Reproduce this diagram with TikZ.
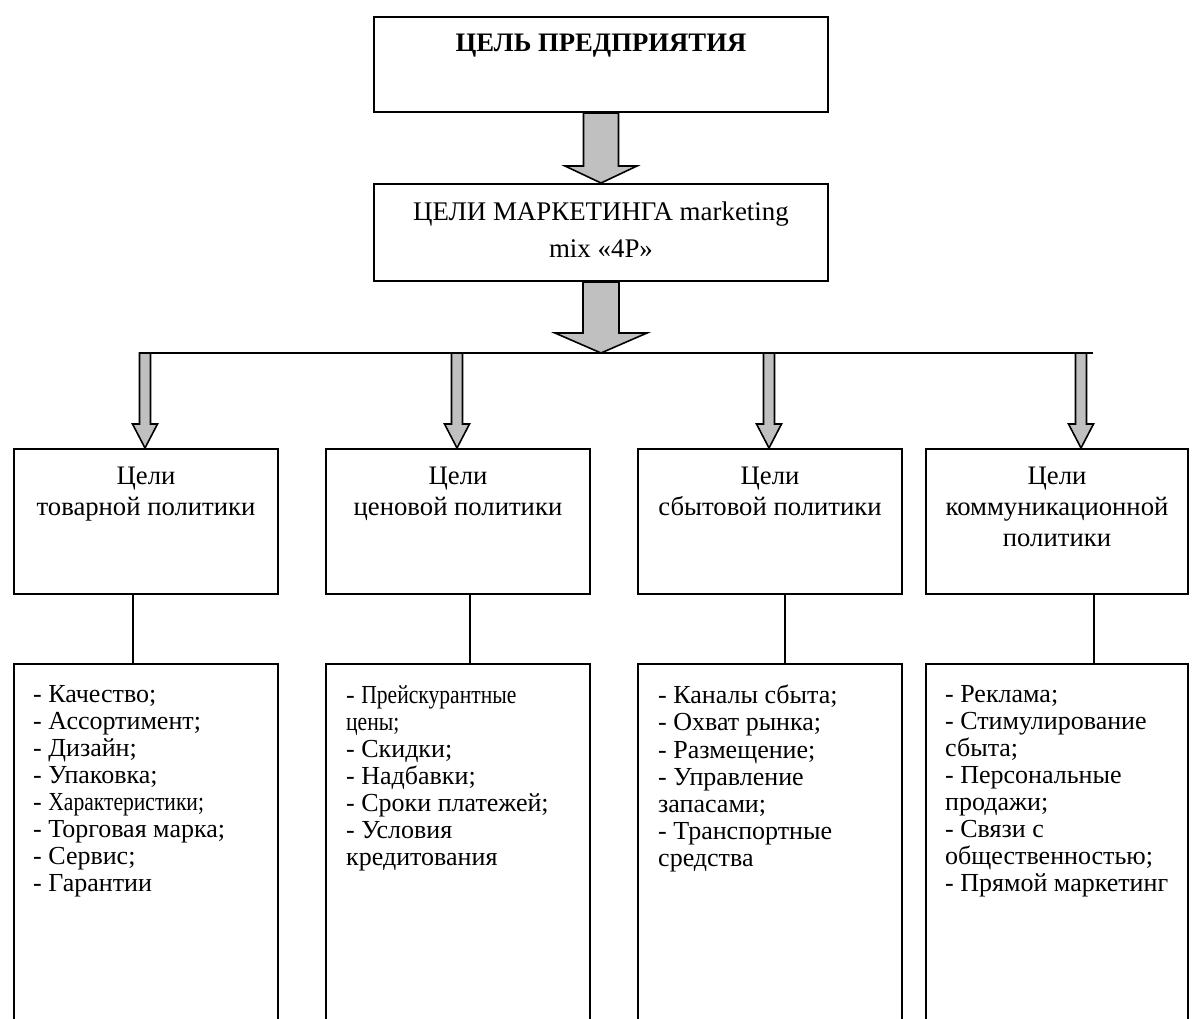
\documentclass[tikz,border=0pt]{standalone}
\usepackage{fontspec}
\usepackage{graphicx}
\setmainfont{Liberation Serif}
\usetikzlibrary{calc}

\definecolor{arrowgray}{RGB}{192,192,192}
\tikzset{
    box/.style={draw=black, line width=2pt, anchor=north west, inner sep=0pt},
    headtext/.style={anchor=north, align=center, inner sep=0pt, font=\fontsize{26.7}{31}\selectfont},
    listtext/.style={anchor=north west, align=left, inner sep=0pt, font=\fontsize{26}{27.1}\selectfont},
    blockarrow/.style={fill=arrowgray, draw=black, line width=1.6pt, line join=miter},
    link/.style={draw=black, line width=2pt},
}
% #1 start, #2 tip, #3 half shaft, #4 half head, #5 head length
\newcommand{\blockarrow}[5]{\filldraw[blockarrow] ($(#1)+(-#3,0)$) -- ($(#2)+(-#3,-#5)$) -- ($(#2)+(-#4,-#5)$) -- (#2) -- ($(#2)+(#4,-#5)$) -- ($(#2)+(#3,-#5)$) -- ($(#1)+(#3,0)$) -- cycle;}
% condensed words as in the source
\newcommand{\narrow}[1]{\scalebox{0.83}[1]{#1}}

\begin{document}
\begin{tikzpicture}[x=1pt, y=-1pt]
    \useasboundingbox (0,0) rectangle (1202,1019);
    \fill[white] (0,0) rectangle (1202,1019);

    % enterprise goal and marketing goals
    \node[box, minimum width=454pt, minimum height=95pt] (goal) at (373,16) {};
    \node[headtext, font=\bfseries\fontsize{26.7}{31}\selectfont, yshift=-18pt] (goaltext) at (goal.north) {ЦЕЛЬ ПРЕДПРИЯТИЯ};
    \node[box, minimum width=454pt, minimum height=97pt] (mix) at (373,183) {};
    \node[headtext, font=\fontsize{26.9}{37}\selectfont, yshift=-19pt] (mixtext) at (mix.north) {ЦЕЛИ МАРКЕТИНГА marketing\\mix «4P»};
    \blockarrow{goal.south}{mix.north}{17.5}{36}{17}

    % distribution line
    \coordinate (busl) at (140,353);
    \coordinate (busr) at (1093,353);
    \coordinate (hub) at (mix.south |- busl);
    \draw[link] (busl) -- (busr);
    \blockarrow{mix.south}{hub}{18}{46}{20}

    % goals of the four policies
    \node[box, minimum width=264pt, minimum height=145pt] (g1) at (13,448) {};
    \node[box, minimum width=264pt, minimum height=145pt] (g2) at (325,448) {};
    \node[box, minimum width=264pt, minimum height=145pt] (g3) at (637,448) {};
    \node[box, minimum width=262pt, minimum height=145pt] (g4) at (925,448) {};
    \node[headtext, yshift=-19pt] (g1text) at (g1.north) {Цели\\товарной политики};
    \node[headtext, yshift=-19pt] (g2text) at (g2.north) {Цели\\ценовой политики};
    \node[headtext, yshift=-19pt] (g3text) at (g3.north) {Цели\\сбытовой политики};
    \node[headtext, yshift=-19pt] (g4text) at (g4.north) {Цели\\коммуникационной\\политики};

    \foreach \i/\xa in {1/145, 2/457, 3/769, 4/1081} {
        \coordinate (bus\i) at (\xa,353);
        \coordinate (tip\i) at (bus\i |- g\i.north);
        \blockarrow{bus\i}{tip\i}{5.5}{12.5}{24}
    }

    % tools of each policy
    \node[box, minimum width=264pt, minimum height=367pt] (l1) at (13,663) {};
    \node[box, minimum width=264pt, minimum height=367pt] (l2) at (325,663) {};
    \node[box, minimum width=264pt, minimum height=367pt] (l3) at (637,663) {};
    \node[box, minimum width=262pt, minimum height=367pt] (l4) at (925,663) {};
    \node[listtext] (l1text) at ($(l1.north west)+(20,22)$) {- Качество;\\- Ассортимент;\\- Дизайн;\\- Упаковка;\\- \narrow{Характеристики;}\\- Торговая марка;\\- Сервис;\\- Гарантии};
    \node[listtext] (l2text) at ($(l2.north west)+(21,22)$) {- \narrow{Прейскурантные}\\\narrow{цены;}\\- Скидки;\\- Надбавки;\\- Сроки платежей;\\- Условия\\кредитования};
    \node[listtext] (l3text) at ($(l3.north west)+(21,22)$) {- Каналы сбыта;\\- Охват рынка;\\- Размещение;\\- Управление\\запасами;\\- Транспортные\\средства};
    \node[listtext] (l4text) at ($(l4.north west)+(20,22)$) {- Реклама;\\- Стимулирование\\сбыта;\\- Персональные\\продажи;\\- Связи с\\общественностью;\\- Прямой маркетинг};

    \foreach \i/\dx in {1/-13, 2/12, 3/15, 4/37} {
        \draw[link] ($(g\i.south)+(\dx,0)$) -- ($(l\i.north)+(\dx,0)$);
    }

\end{tikzpicture}
\end{document}
